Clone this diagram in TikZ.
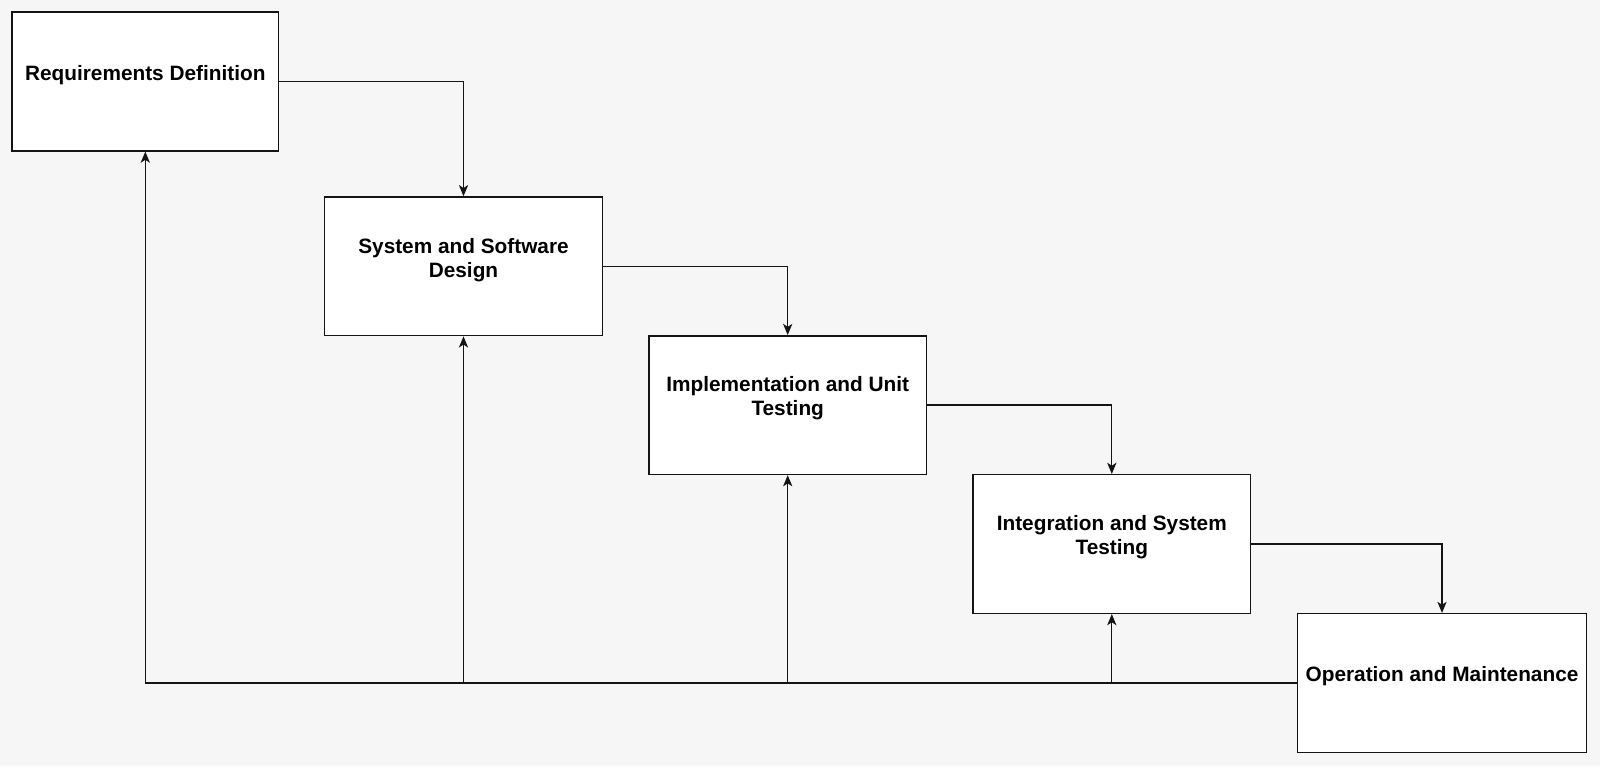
\documentclass[tikz,border=0pt]{standalone}
\usepackage{fontspec}
\setmainfont{Liberation Sans}
\usetikzlibrary{arrows.meta}
\definecolor{pagebg}{HTML}{F6F6F6}
\definecolor{edge}{HTML}{141414}
\begin{document}
\begin{tikzpicture}[x=0.5pt,y=-0.5pt,
  stagebox/.style={draw=edge, line width=0.75pt, fill=white, rectangle,
    minimum height=69.3pt, inner sep=0pt},
  stagetext/.style={align=center, inner sep=0pt,
    font=\fontsize{10.4}{12}\selectfont\bfseries},
  flow/.style={draw=edge, line width=0.65pt,
    -{Stealth[length=5.6pt, width=4.6pt, inset=1.5pt]}},
  plain/.style={draw=edge, line width=0.65pt}]
  % page
  \fill[pagebg] (0,0) rectangle (1600,766);
  \useasboundingbox (0,0) rectangle (1600,766);

  % stages
  \node[stagebox, minimum width=133.2pt] (req)   at (145.3,81.5)  {};
  \node[stagebox, minimum width=138.8pt] (sys)   at (463.5,266.3) {};
  \node[stagebox, minimum width=138.8pt] (impl)  at (787.7,405.1) {};
  \node[stagebox, minimum width=138.8pt] (integ) at (1111.8,544)  {};
  \node[stagebox, minimum width=144.7pt] (op)    at (1442,683)    {};

  \node[stagetext] (reqt)   at ([yshift=3.3pt]req.center)   {Requirements Definition};
  \node[stagetext] (syst)   at ([yshift=3.3pt]sys.center)   {System and Software\\Design};
  \node[stagetext] (implt)  at ([yshift=3.3pt]impl.center)  {Implementation and Unit\\Testing};
  \node[stagetext] (integt) at ([yshift=3.3pt]integ.center) {Integration and System\\Testing};
  \node[stagetext] (opt)    at ([yshift=3.3pt]op.center)    {Operation and Maintenance};

  % forward flow down the cascade
  \draw[flow] (req.east) -| (sys.north);
  \draw[flow] (sys.east) -| (impl.north);
  \draw[flow] (impl.east) -| (integ.north);
  \draw[flow] (integ.east) -| (op.north);

  % feedback paths along the bottom
  \coordinate (back) at (req.south |- op.west);
  \draw[plain] (op.west) -- (back);
  \draw[flow] (back) -- (req.south);
  \draw[flow] (sys.south |- op.west) -- (sys.south);
  \draw[flow] (impl.south |- op.west) -- (impl.south);
  \draw[flow] (integ.south |- op.west) -- (integ.south);
\end{tikzpicture}
\end{document}
